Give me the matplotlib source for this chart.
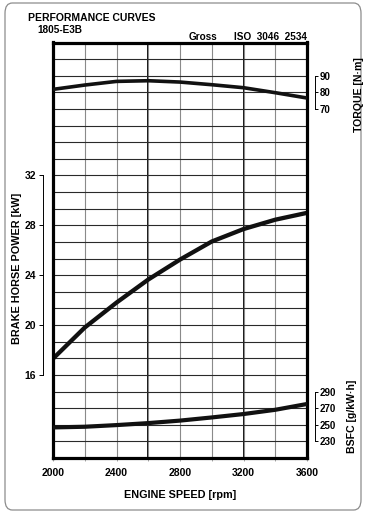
import matplotlib
matplotlib.use("Agg")
import matplotlib.pyplot as plt
import numpy as np
from matplotlib.patches import FancyBboxPatch

plt.rcParams['font.family'] = ['Liberation Sans', 'DejaVu Sans']

# ---- data ----
rpm = [2000, 2200, 2400, 2600, 2800, 3000, 3200, 3400, 3600]
power_kw = [17.3, 19.8, 21.8, 23.65, 25.25, 26.7, 27.7, 28.45, 29.0]
torque_nm = [81.8, 84.4, 86.6, 87.0, 86.2, 84.6, 82.8, 79.8, 76.6]
bsfc = [246.8, 247.6, 249.6, 252.0, 255.0, 258.8, 262.9, 268.0, 275.0]

x_ticks = [2000, 2400, 2800, 3200, 3600]
power_ticks = [16, 20, 24, 28, 32]
torque_ticks = [70, 80, 90]
bsfc_ticks = [230, 250, 270, 290]

W, H = 367, 515
fig = plt.figure(figsize=(W / 100, H / 100), dpi=100)

def fx(px):
    return px / W

def fy(py):
    return 1 - py / H

L, R, T, B = 53, 307, 42.5, 458
pos = [fx(L), fy(B), (R - L) / W, (B - T) / H]

step = 4 / 3
p_lo, p_hi = 16 - 5 * step, 32 + 8 * step

ax = fig.add_axes(pos)
ax.set_xlim(2000, 3600)
ax.set_ylim(p_lo, p_hi)
for s in ax.spines.values():
    s.set_linewidth(2.3)
    s.set_color('black')
    s.set_zorder(5)

# grid
ax.set_xticks(x_ticks)
ax.set_xticks(np.arange(2000, 3601, 200), minor=True)
ax.set_yticks([])
ax.set_yticks(np.arange(p_lo, p_hi + 0.01, step), minor=True)
ax.grid(True, which='both', axis='x', color='#8a8a8a', lw=0.8)
ax.grid(True, which='minor', axis='y', color='#2a2a2a', lw=0.8)
for xv in (2600, 3200):
    ax.axvline(xv, color='black', lw=1.3, zorder=1.5)
ax.tick_params(axis='x', which='both', direction='out', length=2, width=0.6,
               color='#999999', labelsize=7.5, pad=5)
ax.tick_params(axis='y', which='both', length=0, labelleft=False)
for lab in ax.get_xticklabels():
    lab.set_fontweight('bold')

ax.plot(rpm, power_kw, color='#111111', lw=3.1, solid_capstyle='butt', zorder=3)

# left power scale
axl = fig.add_axes(pos)
axl.set_ylim(p_lo, p_hi)
axl.patch.set_visible(False)
for k in ('top', 'right', 'bottom'):
    axl.spines[k].set_visible(False)
axl.spines['left'].set_position(('outward', 7.5))
axl.spines['left'].set_bounds(16, 32)
axl.spines['left'].set_linewidth(0.7)
axl.set_yticks(power_ticks)
axl.tick_params(axis='y', direction='out', length=3, width=0.7, labelsize=7.5, pad=1.5)
axl.set_xticks([])
for lab in axl.get_yticklabels():
    lab.set_fontweight('bold')

# torque scale
axt = ax.twinx()
axt.set_ylim(80 - 22 * 10, 80 + 3 * 10)
for k in ('top', 'left', 'bottom'):
    axt.spines[k].set_visible(False)
axt.spines['right'].set_position(('outward', 5.5))
axt.spines['right'].set_bounds(70, 90)
axt.spines['right'].set_linewidth(0.7)
axt.set_yticks(torque_ticks)
axt.tick_params(axis='y', direction='out', length=2.5, width=0.7, labelsize=7, pad=1)
for lab in axt.get_yticklabels():
    lab.set_fontweight('bold')
    lab.set_family(['Liberation Sans Narrow', 'Liberation Sans'])
axt.plot(rpm, torque_nm, color='#111111', lw=2.6, zorder=3)

# bsfc scale
axb = ax.twinx()
axb.set_ylim(250 - 2 * 20, 250 + 23 * 20)
for k in ('top', 'left', 'bottom'):
    axb.spines[k].set_visible(False)
axb.spines['right'].set_position(('outward', 5.5))
axb.spines['right'].set_bounds(230, 290)
axb.spines['right'].set_linewidth(0.7)
axb.set_yticks(bsfc_ticks)
axb.tick_params(axis='y', direction='out', length=2.5, width=0.7, labelsize=7, pad=1)
for lab in axb.get_yticklabels():
    lab.set_fontweight('bold')
    lab.set_family(['Liberation Sans Narrow', 'Liberation Sans'])
axb.plot(rpm, bsfc, color='#111111', lw=3.0, zorder=3)

# texts
fig.text(fx(28), fy(18), 'PERFORMANCE CURVES', fontsize=7.5, fontweight='bold',
         ha='left', va='center')
fig.text(fx(37), fy(30), '1805-E3B', fontsize=7.2, fontweight='bold',
         ha='left', va='center')
fig.text(fx(189), fy(37), 'Gross', fontsize=7.2, fontweight='bold',
         ha='left', va='center')
fig.text(fx(307), fy(37), 'ISO  3046  2534', fontsize=7.2, fontweight='bold',
         ha='right', va='center')
fig.text(fx(180), fy(495), 'ENGINE SPEED [rpm]', fontsize=7.8, fontweight='bold',
         ha='center', va='center')
fig.text(fx(17), fy(268), 'BRAKE HORSE POWER [kW]', fontsize=7.8, fontweight='bold',
         ha='center', va='center', rotation=90)
fig.text(fx(359), fy(95), 'TORQUE [N\u00b7m]', fontsize=7.6, fontweight='bold',
         ha='center', va='center', rotation=90)
fig.text(fx(352), fy(416), 'BSFC [g/kW\u00b7h]', fontsize=7.6, fontweight='bold',
         ha='center', va='center', rotation=90)

# outer rounded frame
frame = FancyBboxPatch((fx(5), fy(510)), fx(361) - fx(5), fy(3) - fy(510),
                       boxstyle='round,pad=0,rounding_size=0.02',
                       transform=fig.transFigure, fill=False,
                       edgecolor='#8c8c8c', lw=0.9)
fig.patches.append(frame)

fig.savefig('out.png', dpi=100)
